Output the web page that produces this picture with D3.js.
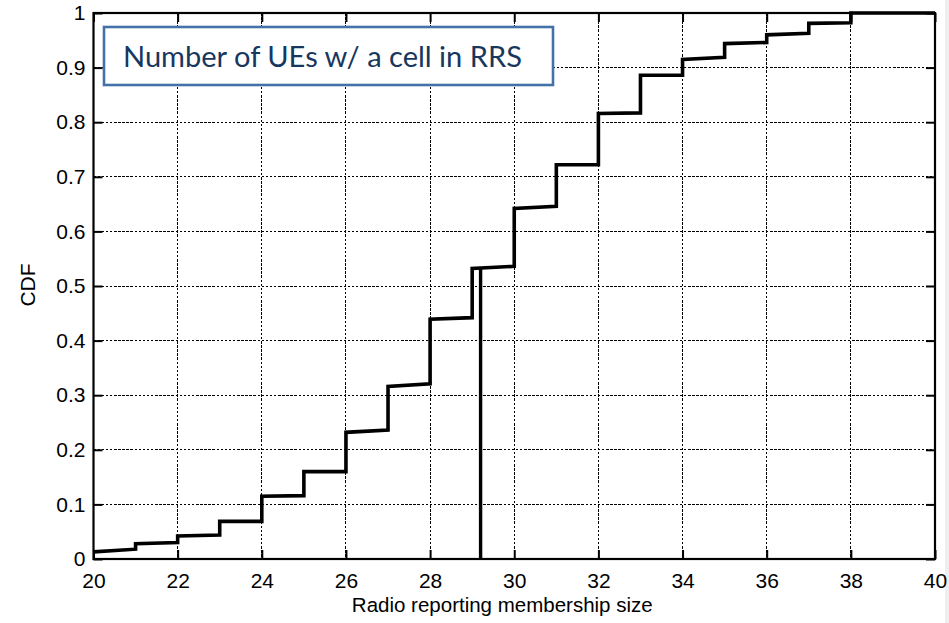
<!DOCTYPE html>
<html>
<head>
<meta charset="utf-8">
<script src="https://cdn.jsdelivr.net/npm/d3@7"></script>
<style>
  html, body { margin: 0; padding: 0; background: #ffffff; }
  svg { display: block; }
  .tick text { font-family: "Liberation Sans", Arial, sans-serif; font-size: 21px; fill: #000; }
</style>
</head>
<body>
<svg id="chart" width="949" height="623"></svg>
<script>
// Membership size buckets (each step spans [size, size + 1])
const sizes = [20, 21, 22, 23, 24, 25, 26, 27, 28, 29, 30, 31, 32, 33, 34, 35, 36, 37, 38, 39];
// CDF at the left and right end of each step
const cdfStart = [0.013, 0.028, 0.042, 0.069, 0.115, 0.160, 0.232, 0.316, 0.439, 0.532, 0.642, 0.722, 0.816, 0.886, 0.915, 0.944, 0.960, 0.981, 1.000, 1.000];
const cdfEnd   = [0.018, 0.030, 0.044, 0.069, 0.116, 0.160, 0.236, 0.321, 0.442, 0.536, 0.646, 0.722, 0.817, 0.886, 0.919, 0.946, 0.963, 0.982, 1.000, 1.000];
// Median marker
const medianSize = 29.2;
const medianCdf = 0.533;
// Axis ticks
const xTicks = [20, 22, 24, 26, 28, 30, 32, 34, 36, 38, 40];
const yTicks = [0, 0.1, 0.2, 0.3, 0.4, 0.5, 0.6, 0.7, 0.8, 0.9, 1];
const yTickLabels = ["0", "0.1", "0.2", "0.3", "0.4", "0.5", "0.6", "0.7", "0.8", "0.9", "1"];
const xLabel = "Radio reporting membership size";
const yLabel = "CDF";
const titleText = "Number of UEs w/ a cell in RRS";

const svg = d3.select("#chart");
const W = 949, H = 623;
const plot = { left: 93.5, right: 935, top: 13, bottom: 559 };

svg.append("rect").attr("width", W).attr("height", H).attr("fill", "#ffffff");
svg.append("rect").attr("x", 945).attr("y", 0).attr("width", 4).attr("height", H).attr("fill", "#efefef");

const x = d3.scaleLinear().domain([20, 40]).range([plot.left, plot.right]);
const y = d3.scaleLinear().domain([0, 1]).range([plot.bottom, plot.top]);

// Dotted grid
const grid = svg.append("g").attr("stroke", "#000").attr("stroke-width", 1)
  .attr("stroke-dasharray", "2.5,1.6").attr("fill", "none")
  .attr("shape-rendering", "crispEdges");
grid.selectAll("line.vx").data(xTicks.slice(1, -1)).join("line")
  .attr("x1", d => x(d)).attr("x2", d => x(d))
  .attr("y1", plot.top).attr("y2", plot.bottom);
grid.selectAll("line.hy").data(yTicks.slice(1, -1)).join("line")
  .attr("x1", plot.left).attr("x2", plot.right)
  .attr("y1", d => y(d)).attr("y2", d => y(d));

// Axes with inward ticks
const tickLen = 9;
const xAxis = svg.append("g").attr("transform", `translate(0,${plot.bottom})`)
  .call(d3.axisBottom(x).tickValues(xTicks).tickFormat(d3.format("d"))
    .tickSizeInner(-tickLen).tickSizeOuter(0).tickPadding(14));
const xAxisTop = svg.append("g").attr("transform", `translate(0,${plot.top})`)
  .call(d3.axisTop(x).tickValues(xTicks).tickFormat("")
    .tickSizeInner(-tickLen).tickSizeOuter(0));
const yAxis = svg.append("g").attr("transform", `translate(${plot.left},0)`)
  .call(d3.axisLeft(y).tickValues(yTicks).tickFormat((d, i) => yTickLabels[i])
    .tickSizeInner(-tickLen).tickSizeOuter(0).tickPadding(8));
const yAxisRight = svg.append("g").attr("transform", `translate(${plot.right},0)`)
  .call(d3.axisRight(y).tickValues(yTicks).tickFormat("")
    .tickSizeInner(-tickLen).tickSizeOuter(0));
[xAxis, xAxisTop, yAxis, yAxisRight].forEach(g => {
  g.select(".domain").remove();
  g.selectAll(".tick line").attr("stroke", "#000").attr("stroke-width", 2);
});

// Plot frame
svg.append("rect")
  .attr("x", plot.left).attr("y", plot.top)
  .attr("width", plot.right - plot.left).attr("height", plot.bottom - plot.top)
  .attr("fill", "none").attr("stroke", "#000").attr("stroke-width", 2.2);

// CDF staircase
const pts = [];
sizes.forEach((s, i) => {
  pts.push([s, cdfStart[i]]);
  pts.push([s + 1, cdfEnd[i]]);
});
const line = d3.line().x(d => x(d[0])).y(d => y(d[1]));
svg.append("path").datum(pts)
  .attr("d", line)
  .attr("fill", "none").attr("stroke", "#000").attr("stroke-width", 3.6)
  .attr("stroke-linejoin", "miter").attr("stroke-linecap", "butt");

// Median marker
svg.append("line")
  .attr("x1", x(medianSize)).attr("x2", x(medianSize))
  .attr("y1", y(0)).attr("y2", y(medianCdf))
  .attr("stroke", "#000").attr("stroke-width", 3.4);

// Axis titles
svg.append("text")
  .attr("x", (plot.left + plot.right) / 2 - 12).attr("y", 612)
  .attr("text-anchor", "middle")
  .style("font-family", "'Liberation Sans', Arial, sans-serif").style("font-size", "20.5px")
  .text(xLabel);
svg.append("text")
  .attr("transform", `translate(35,285) rotate(-90)`)
  .attr("text-anchor", "middle")
  .style("font-family", "'Liberation Sans', Arial, sans-serif").style("font-size", "21px")
  .text(yLabel);

// Annotation box
const box = { x: 104, y: 27, w: 449, h: 58 };
svg.append("rect")
  .attr("x", box.x).attr("y", box.y).attr("width", box.w).attr("height", box.h)
  .attr("fill", "#ffffff").attr("stroke", "#4472a8").attr("stroke-width", 2.6);
const t = svg.append("text")
  .attr("x", 123).attr("y", 66.5)
  .style("font-family", "Lato, 'Open Sans', sans-serif").style("font-size", "27px")
  .attr("fill", "#17375e")
  .text(titleText);
const targetW = 399;
const len = t.node().getComputedTextLength();
t.style("font-size", (27 * targetW / len).toFixed(2) + "px");
</script>
</body>
</html>
